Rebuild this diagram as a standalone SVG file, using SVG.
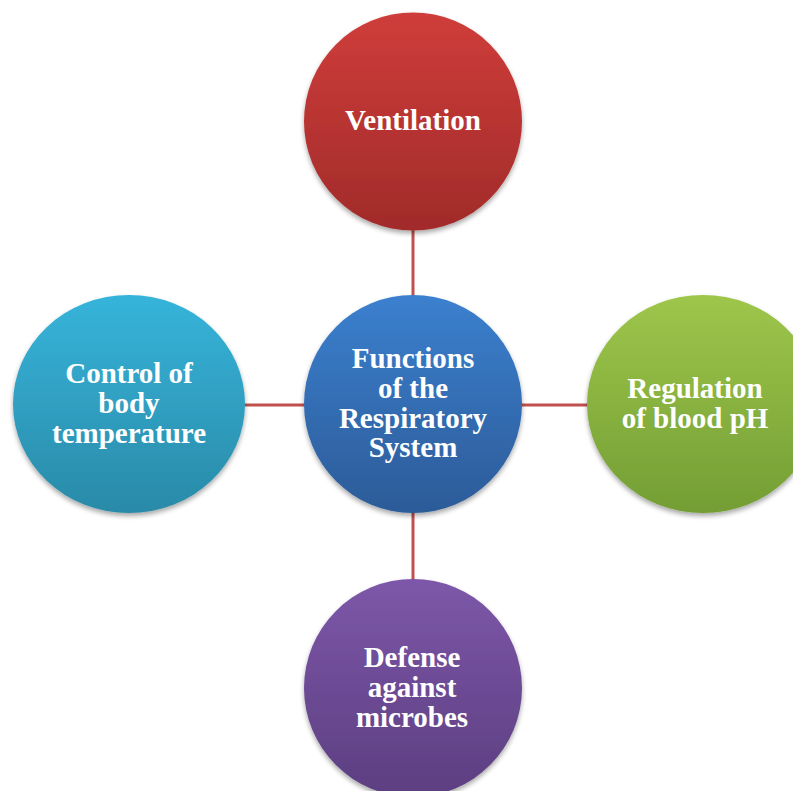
<svg xmlns="http://www.w3.org/2000/svg" width="793" height="791" viewBox="0 0 793 791">
  <defs>
    <linearGradient id="gRed" x1="0" y1="0" x2="0" y2="1">
      <stop offset="0" stop-color="#CF3D3A"/>
      <stop offset="1" stop-color="#A12B2A"/>
    </linearGradient>
    <linearGradient id="gBlue" x1="0" y1="0" x2="0" y2="1">
      <stop offset="0" stop-color="#3B80CF"/>
      <stop offset="1" stop-color="#2C5B98"/>
    </linearGradient>
    <linearGradient id="gTeal" x1="0" y1="0" x2="0" y2="1">
      <stop offset="0" stop-color="#36B4DA"/>
      <stop offset="1" stop-color="#2A8AA8"/>
    </linearGradient>
    <linearGradient id="gGreen" x1="0" y1="0" x2="0" y2="1">
      <stop offset="0" stop-color="#9EC64B"/>
      <stop offset="1" stop-color="#739E34"/>
    </linearGradient>
    <linearGradient id="gPurple" x1="0" y1="0" x2="0" y2="1">
      <stop offset="0" stop-color="#7D57A9"/>
      <stop offset="1" stop-color="#5C3E80"/>
    </linearGradient>
    <filter id="shadow" x="-20%" y="-20%" width="140%" height="140%">
      <feGaussianBlur in="SourceAlpha" stdDeviation="2.5"/>
      <feOffset dx="0" dy="2.5" result="b"/>
      <feComponentTransfer><feFuncA type="linear" slope="0.35"/></feComponentTransfer>
      <feMerge><feMergeNode/><feMergeNode in="SourceGraphic"/></feMerge>
    </filter>
  </defs>
  <style>
    .conn { stroke: #C0504D; stroke-width: 3; fill: none; }
    .lbl { font-family: "Liberation Serif", "Times New Roman", serif; font-weight: bold; font-size: 29px; fill: #FFFFFF; text-anchor: middle; }
  </style>
  <rect width="793" height="791" fill="#FFFFFF"/>

  <g id="connectors">
    <line class="conn" x1="413" y1="225" x2="413" y2="300"/>
    <line class="conn" x1="413" y1="508" x2="413" y2="584"/>
    <line class="conn" x1="240" y1="405" x2="309" y2="405"/>
    <line class="conn" x1="517" y1="405" x2="592" y2="405"/>
  </g>

  <g id="node-ventilation">
    <ellipse cx="413" cy="121.5" rx="109" ry="109" fill="url(#gRed)" filter="url(#shadow)"/>
    <text class="lbl" x="413" y="130">Ventilation</text>
  </g>

  <g id="node-center">
    <ellipse cx="413" cy="404" rx="109" ry="109" fill="url(#gBlue)" filter="url(#shadow)"/>
    <text class="lbl" x="413" y="368">Functions</text>
    <text class="lbl" x="413" y="398">of the</text>
    <text class="lbl" x="413" y="428">Respiratory</text>
    <text class="lbl" x="413" y="457">System</text>
  </g>

  <g id="node-temperature">
    <ellipse cx="129" cy="404" rx="116" ry="109" fill="url(#gTeal)" filter="url(#shadow)"/>
    <text class="lbl" x="129" y="383">Control of</text>
    <text class="lbl" x="129" y="413">body</text>
    <text class="lbl" x="129" y="443">temperature</text>
  </g>

  <g id="node-ph">
    <ellipse cx="703" cy="404" rx="116" ry="109" fill="url(#gGreen)" filter="url(#shadow)"/>
    <text class="lbl" x="695" y="398">Regulation</text>
    <text class="lbl" x="695" y="428">of blood pH</text>
  </g>

  <g id="node-defense">
    <ellipse cx="413" cy="688" rx="109" ry="109" fill="url(#gPurple)" filter="url(#shadow)"/>
    <text class="lbl" x="412" y="667">Defense</text>
    <text class="lbl" x="412" y="697">against</text>
    <text class="lbl" x="412" y="727">microbes</text>
  </g>
</svg>
